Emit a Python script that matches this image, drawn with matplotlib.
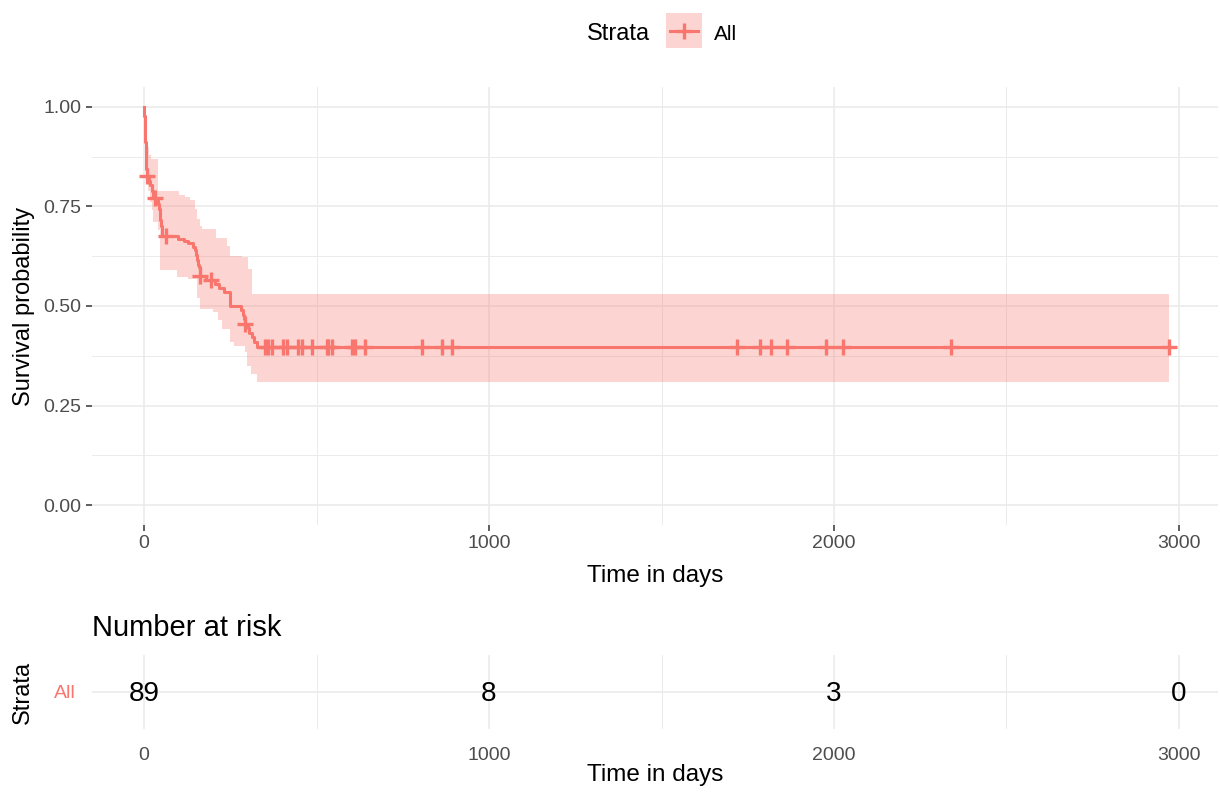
import numpy as np
import matplotlib
matplotlib.use("Agg")
import matplotlib.pyplot as plt

plt.rcParams['font.family'] = ['Liberation Sans', 'DejaVu Sans']

# ---------------- data ----------------
surv_time = [0, 1, 2, 3, 4, 5, 6, 7, 9, 14, 18, 22, 26, 41, 43, 45, 47, 49, 51, 53,
             99, 115, 128, 142, 148, 150, 153, 157, 159, 161, 162, 180, 206, 218,
             232, 249, 250, 280, 288, 291, 292, 300, 305, 312, 320, 327]
surv_prob = [1.000, 0.978, 0.956, 0.933, 0.911, 0.888, 0.866, 0.843, 0.827, 0.815,
             0.803, 0.790, 0.770, 0.757, 0.743, 0.729, 0.715, 0.701, 0.688, 0.677,
             0.668, 0.663, 0.658, 0.647, 0.640, 0.628, 0.616, 0.603, 0.598, 0.585,
             0.575, 0.566, 0.556, 0.545, 0.534, 0.511, 0.500, 0.489, 0.478, 0.467,
             0.456, 0.444, 0.433, 0.421, 0.410, 0.398]

upper_time = [0, 2, 3, 5, 7, 10, 14, 20, 42, 100, 120, 133, 148, 153, 162, 167,
              210, 240, 249, 283, 302, 312]
upper_prob = [1.000, 0.990, 0.970, 0.950, 0.930, 0.900, 0.880, 0.870, 0.790, 0.780,
              0.775, 0.765, 0.744, 0.719, 0.700, 0.693, 0.672, 0.651, 0.626, 0.622,
              0.593, 0.530]

lower_time = [0, 1, 3, 7, 12, 17, 22, 27, 41, 46, 95, 128, 153, 162, 200, 215,
              225, 249, 260, 293, 298, 310, 327]
lower_prob = [1.000, 0.930, 0.880, 0.830, 0.790, 0.760, 0.740, 0.710, 0.690, 0.590,
              0.572, 0.568, 0.520, 0.492, 0.485, 0.465, 0.442, 0.409, 0.400, 0.384,
              0.350, 0.330, 0.308]

censor_time = [10, 33, 65, 163, 193, 294, 351, 360, 370, 404, 414, 447, 457, 486,
               530, 534, 544, 602, 612, 641, 805, 863, 892, 1718, 1786, 1817, 1863,
               1977, 2025, 2339, 2971]

risk_time = [0, 1000, 2000, 3000]
risk_count = [89, 8, 3, 0]
strata_name = "All"

# ---------------- styling ----------------
RED = "#F8766D"
GRID = "#EBEBEB"
TICKC = "#4D4D4D"
W, H = 1220, 793
fig = plt.figure(figsize=(W / 100, H / 100), dpi=100)


def box(l, t, r, b):
    return [l / W, 1 - b / H, (r - l) / W, (b - t) / H]


def step_eval(times, vals, t):
    times = np.asarray(times, float)
    vals = np.asarray(vals, float)
    idx = np.searchsorted(times, t, side='right') - 1
    return vals[np.clip(idx, 0, len(vals) - 1)]


px_per_day = 0.345
x0_px, left_px, right_px = 144, 92, 1218
xmin = -(x0_px - left_px) / px_per_day
xmax = (right_px - x0_px) / px_per_day

t_end = max(censor_time)

# ---------------- main survival plot ----------------
ax = fig.add_axes(box(left_px, 87, right_px, 525))
ax.set_xlim(xmin, xmax)
ax.set_ylim(-0.05, 1.05)
for s in ax.spines.values():
    s.set_visible(False)
ax.set_xticks([0, 1000, 2000, 3000])
ax.set_xticks([500, 1500, 2500], minor=True)
ax.set_yticks([0, 0.25, 0.5, 0.75, 1.0])
ax.set_yticks([0.125, 0.375, 0.625, 0.875], minor=True)
ax.set_yticklabels(["0.00", "0.25", "0.50", "0.75", "1.00"])
ax.grid(True, which='major', color=GRID, lw=1.2)
ax.grid(True, which='minor', color=GRID, lw=0.7)
ax.set_axisbelow(True)
ax.tick_params(which='major', length=4.5, width=1.1, color="#333333",
               labelsize=14, labelcolor=TICKC, pad=3)
ax.tick_params(which='minor', length=0)

grid_t = np.union1d(np.union1d(upper_time, lower_time), [t_end])
up = step_eval(upper_time, upper_prob, grid_t)
lo = step_eval(lower_time, lower_prob, grid_t)
ax.fill_between(grid_t, lo, up, step='post', color=RED, alpha=0.3, lw=0)

st = np.append(surv_time, t_end)
sp = np.append(surv_prob, surv_prob[-1])
ax.step(st, sp, where='post', color=RED, lw=2.2)
cy = step_eval(surv_time, surv_prob, np.asarray(censor_time, float))
ax.plot(censor_time, cy, ls='none', marker='+', ms=12, mew=2.4, color=RED)

ax.set_xlabel("Time in days", fontsize=17.5, labelpad=9)
ax.set_ylabel("Survival probability", fontsize=17, labelpad=6)

# ---------------- legend ----------------
fig.text(650 / W, 1 - 34 / H, "Strata", ha='right', va='center', fontsize=17)
fig.text(714 / W, 1 - 34 / H, strata_name, ha='left', va='center', fontsize=15)
kax = fig.add_axes(box(666, 13, 702, 48))
kax.set_xlim(0, 1)
kax.set_ylim(0, 1)
kax.axis('off')
kax.add_patch(plt.Rectangle((0, 0), 1, 1, color=RED, alpha=0.3, lw=0))
kax.plot([0.1, 0.9], [0.5, 0.5], color=RED, lw=2.2)
kax.plot([0.5], [0.5], marker='+', ms=12, mew=2.4, color=RED)

# ---------------- risk table ----------------
rax = fig.add_axes(box(left_px, 655, right_px, 729))
rax.set_xlim(xmin, xmax)
rax.set_ylim(-0.6, 0.6)
for s in rax.spines.values():
    s.set_visible(False)
rax.set_xticks([0, 1000, 2000, 3000])
rax.set_xticks([500, 1500, 2500], minor=True)
rax.set_yticks([0])
rax.set_yticklabels([strata_name])
rax.grid(True, which='major', color=GRID, lw=1.2)
rax.grid(True, which='minor', axis='x', color=GRID, lw=0.7)
rax.set_axisbelow(True)
rax.tick_params(axis='x', which='major', length=0, labelsize=14,
                labelcolor=TICKC, pad=13)
rax.tick_params(axis='y', length=0, labelsize=14, labelcolor=RED, pad=12)
rax.tick_params(which='minor', length=0)
for t, n in zip(risk_time, risk_count):
    rax.text(t, -0.04, str(n), ha='center', va='center', fontsize=20, color='black')
rax.set_xlabel("Time in days", fontsize=17.5, labelpad=0)
rax.set_ylabel("Strata", fontsize=17, labelpad=14)
fig.text(92 / W, 1 - 628 / H, "Number at risk", ha='left', va='center', fontsize=21)

fig.savefig("out.png", dpi=100)
